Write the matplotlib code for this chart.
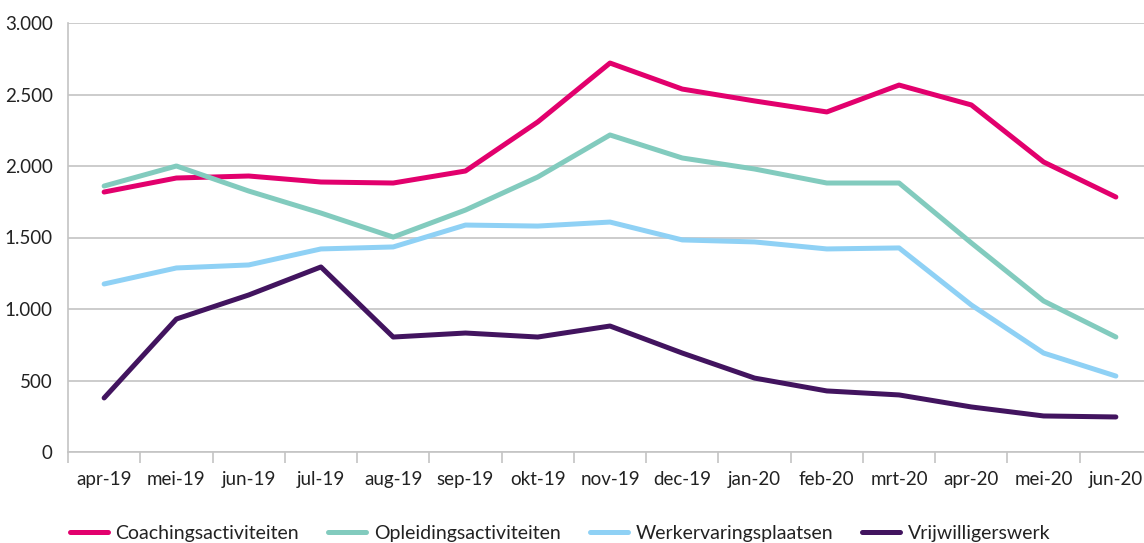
import matplotlib
matplotlib.use("Agg")
import matplotlib.pyplot as plt
from matplotlib.ticker import FuncFormatter, FixedLocator

plt.rcParams['font.family'] = ['Lato', 'DejaVu Sans']

months = ['apr-19', 'mei-19', 'jun-19', 'jul-19', 'aug-19', 'sep-19', 'okt-19', 'nov-19',
          'dec-19', 'jan-20', 'feb-20', 'mrt-20', 'apr-20', 'mei-20', 'jun-20']

coaching = [1818, 1916, 1930, 1888, 1881, 1965, 2308, 2720, 2538, 2455, 2378, 2566, 2427, 2028, 1783]
opleiding = [1860, 2000, 1825, 1671, 1503, 1692, 1923, 2217, 2056, 1979, 1881, 1881, 1462, 1056, 804]
werkervaring = [1175, 1287, 1308, 1420, 1434, 1587, 1580, 1608, 1483, 1469, 1420, 1427, 1028, 692, 531]
vrijwilligers = [378, 930, 1098, 1294, 804, 832, 804, 881, 692, 517, 427, 399, 315, 252, 245]

series = [
    ('Coachingsactiviteiten', coaching, '#e2006d'),
    ('Opleidingsactiviteiten', opleiding, '#82cbbe'),
    ('Werkervaringsplaatsen', werkervaring, '#8fd1f5'),
    ('Vrijwilligerswerk', vrijwilligers, '#42145f'),
]

fig = plt.figure(figsize=(11.44, 5.43), dpi=100)
ax = fig.add_axes([68/1144, 1 - 452/543, (1152 - 68)/1144, (452 - 23)/543])

x = list(range(len(months)))
for name, vals, col in series:
    ax.plot(x, vals, color=col, lw=3.6, label=name, solid_capstyle='round', solid_joinstyle='round')

ax.set_xlim(-0.5, len(months) - 0.5)
ax.set_ylim(0, 3000)
ax.set_yticks(range(0, 3001, 500))
ax.yaxis.set_major_formatter(FuncFormatter(lambda v, p: f'{int(v):,}'.replace(',', '.')))
ax.set_xticks(x)
ax.set_xticklabels(months)
ax.xaxis.set_minor_locator(FixedLocator([i - 0.5 for i in range(len(months) + 1)]))

ax.grid(axis='y', color='#c4c4c4', lw=1.2)
ax.set_axisbelow(True)
for s in ['top', 'right']:
    ax.spines[s].set_visible(False)
for s in ['left', 'bottom']:
    ax.spines[s].set_color('#c4c4c4')
    ax.spines[s].set_linewidth(1.2)

ax.tick_params(axis='y', length=0, pad=11, labelsize=13.5, labelcolor='#222222')
ax.tick_params(axis='x', which='major', length=0, pad=14, labelsize=13.5, labelcolor='#222222')
ax.tick_params(axis='x', which='minor', length=8, width=1.2, color='#c4c4c4')

fig.legend(loc='center left', bbox_to_anchor=(62/1144, 1 - 533/543), ncol=4, frameon=False,
           fontsize=14, handlelength=1.95, handletextpad=0.4, columnspacing=1.5,
           borderaxespad=0, labelcolor='#222222')

fig.savefig('out.png', dpi=100)
